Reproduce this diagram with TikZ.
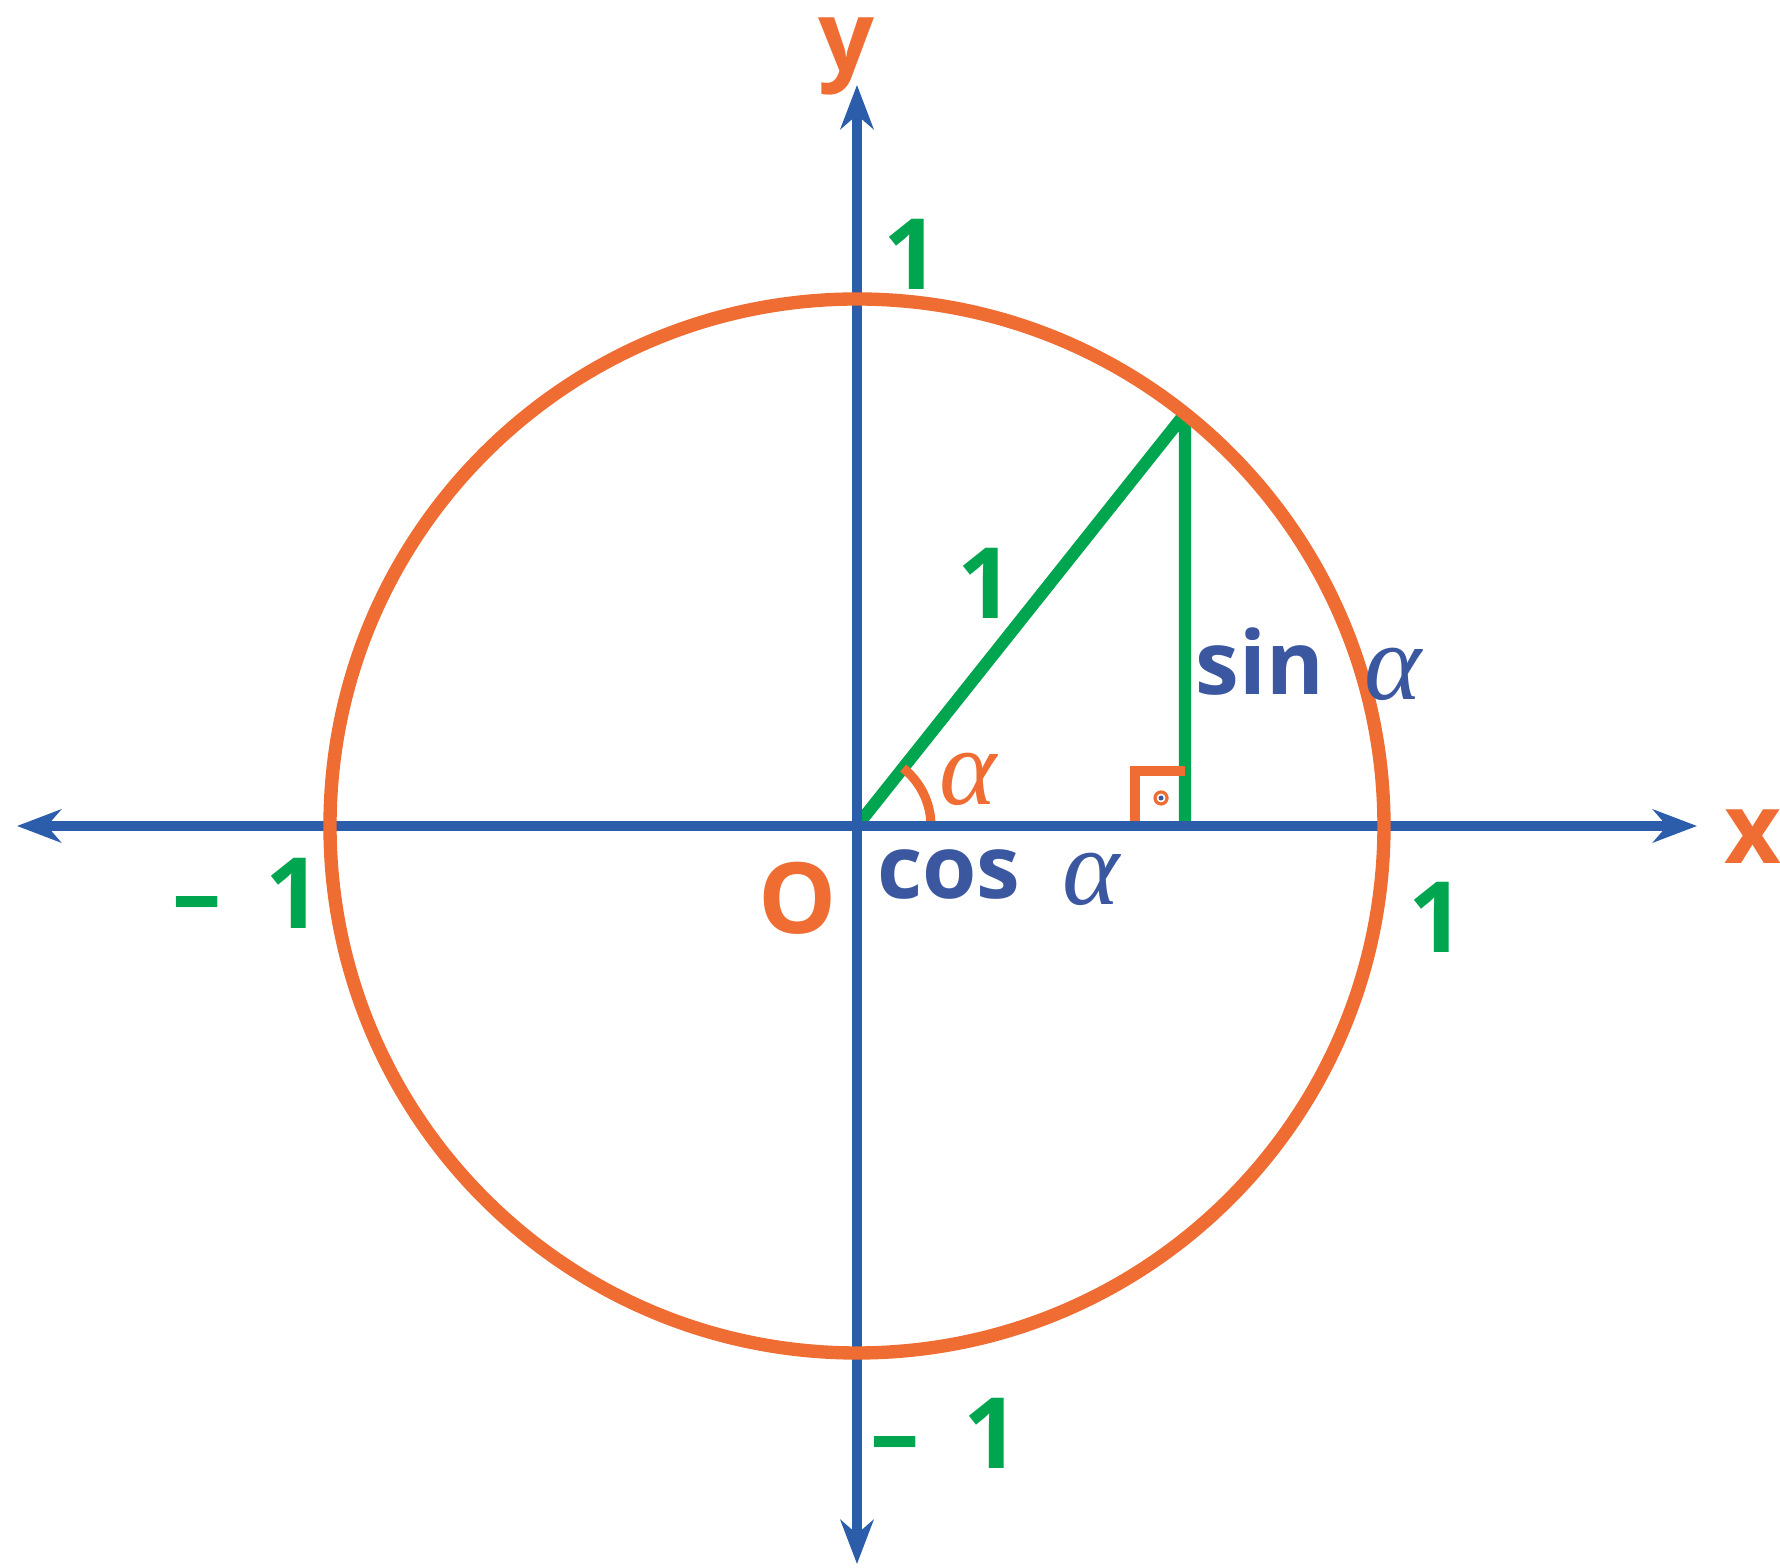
\documentclass[tikz,border=0pt]{standalone}
\usepackage{fontspec}
\setmainfont{Open Sans}
\newfontfamily\greekfont{Liberation Serif}
\usepackage{tikz}
\usetikzlibrary{arrows.meta}
\definecolor{axisblue}{HTML}{2B5DAA}
\definecolor{ringorange}{HTML}{EF6C33}
\definecolor{leggreen}{HTML}{00A550}
\definecolor{textblue}{HTML}{3B57A0}
\tikzset{
  axisline/.style={draw=axisblue,line width=2.9pt,>={Stealth[length=4.4mm,width=3.3mm,inset=1.4mm]}},
  unitring/.style={draw=ringorange,line width=3.8pt},
  legline/.style={draw=leggreen,line width=3.5pt,line join=round},
  anglemark/.style={draw=ringorange,line width=2.6pt},
  numlabel/.style={inner sep=0pt,text=leggreen,font=\fontsize{28}{32}\selectfont\bfseries},
  axislabel/.style={inner sep=0pt,text=ringorange,font=\fontsize{28}{32}\selectfont\bfseries},
  trigtext/.style={inner sep=0pt,text=textblue,font=\fontsize{25}{30}\selectfont\bfseries},
  greektext/.style={inner sep=0pt,font=\greekfont\itshape\fontsize{31}{32}\selectfont},
}
\begin{document}
\begin{tikzpicture}
  \useasboundingbox (-8.57,-7.42) rectangle (9.23,8.26);
  % points
  \coordinate (O) at (0,0);
  \coordinate (P) at (51.5:5.27);
  \coordinate (H) at (P |- O);
  \coordinate (xl) at (-8.40,0);
  \coordinate (xr) at (8.40,0);
  \coordinate (yb) at (0,-7.38);
  \coordinate (yt) at (0,7.41);
  % triangle
  \draw[legline] (O) -- (P) -- (H);
  \draw[anglemark] ([xshift=-5mm]H) |- ([yshift=5.5mm]H);
  \node[circle,draw=ringorange,line width=0.9pt,inner sep=0pt,minimum size=1.2mm] (rdot) at ([xshift=-2.4mm,yshift=2.8mm]H) {};
  \fill[textblue] (rdot.center) circle (0.25mm);
  \draw[anglemark] ([xshift=7.4mm]O) arc[start angle=0,end angle=51.5,radius=7.4mm];
  % axes and circle
  \draw[axisline,<->] (xl) -- (xr);
  \draw[axisline,<->] (yb) -- (yt);
  \draw[unitring] (O) circle[radius=5.27];
  % labels
  \node[axislabel] (xlab) at (8.96,-0.11) {x};
  \node[axislabel] (ylab) at (-0.11,7.70) {y};
  \node[axislabel] (olab) at (-0.59,-0.72) {O};
  \node[numlabel] (ytop) at (0.55,5.72) {1};
  \node[numlabel] (hyp) at (1.29,2.43) {1};
  \node[numlabel] (xright) at (5.80,-0.91) {1};
  \node[numlabel] (xleft) at (-6.10,-0.67) {–\hspace{4.4mm}1};
  \node[numlabel] (ybottom) at (0.88,-6.07) {–\hspace{4.4mm}1};
  \node[greektext,text=ringorange] (alab) at (1.11,0.47) {α};
  \node[trigtext] (sinlab) at (4.03,1.64) {sin};
  \node[greektext,text=textblue] (sinal) at (5.36,1.52) {α};
  \node[trigtext] (coslab) at (0.92,-0.49) {cos};
  \node[greektext,text=textblue] (cosal) at (2.34,-0.53) {α};
\end{tikzpicture}
\end{document}
